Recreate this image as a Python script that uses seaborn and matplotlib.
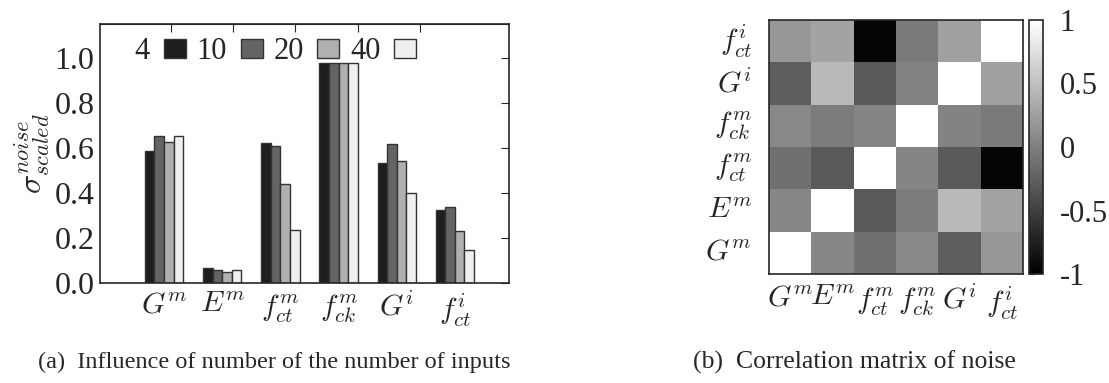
"""
Noise influence bars (a) and noise correlation matrix (b).
"""
import numpy as np
import pandas as pd
import matplotlib
matplotlib.use("Agg")
import matplotlib.pyplot as plt
import seaborn as sns
from matplotlib.patches import Patch

# parametros (eixo x / linhas da matriz)
params = ["G^m", "E^m", "f_{ct}^m", "f_{ck}^m", "G^i", "f_{ct}^i"]
n_inputs = ["4", "10", "20", "40"]

# sigma_scaled^noise por numero de inputs
sigma_4 = [0.588, 0.068, 0.620, 0.979, 0.531, 0.326]
sigma_10 = [0.653, 0.059, 0.610, 0.979, 0.619, 0.337]
sigma_20 = [0.625, 0.050, 0.438, 0.979, 0.540, 0.233]
sigma_40 = [0.651, 0.056, 0.237, 0.979, 0.401, 0.145]

bar_colors = ["#1e1e1e", "#646464", "#b0b0b0", "#efefef"]

# matriz de correlacao (ordem: G^m, E^m, f_ct^m, f_ck^m, G^i, f_ct^i)
corr_rows = [
    [1.00, 0.06, -0.12, 0.07, -0.26, 0.18],
    [0.06, 1.00, -0.30, -0.03, 0.45, 0.28],
    [-0.12, -0.30, 1.00, 0.04, -0.29, -0.96],
    [0.07, -0.03, 0.04, 1.00, 0.03, -0.04],
    [-0.26, 0.45, -0.29, 0.03, 1.00, 0.25],
    [0.18, 0.28, -0.96, -0.04, 0.25, 1.00],
]

sns.set_style("ticks")
plt.rcParams["font.family"] = ["Liberation Serif", "DejaVu Serif"]
plt.rcParams["mathtext.fontset"] = "cm"

W, H = 1109, 383
fig = plt.figure(figsize=(W / 100, H / 100), dpi=100)


def box(x0, y0, x1, y1):
    return [x0 / W, 1 - y1 / H, (x1 - x0) / W, (y1 - y0) / H]


# ---------------- (a) barras ----------------
ax = fig.add_axes(box(100, 24, 509, 283))
labels = [f"${p}$" for p in params]
df = pd.DataFrame({
    "param": labels * 4,
    "n": np.repeat(n_inputs, len(params)),
    "sigma": sigma_4 + sigma_10 + sigma_20 + sigma_40,
})
sns.barplot(data=df, x="param", y="sigma", hue="n", palette=bar_colors,
            width=0.66, edgecolor="#333333", linewidth=1.0, ax=ax,
            saturation=1, gap=0)
ax.set_xlim(-1.1, 5.93)
ax.set_ylim(0, 1.15)
ax.set_yticks([0.0, 0.2, 0.4, 0.6, 0.8, 1.0])
ax.set_yticklabels(["0.0", "0.2", "0.4", "0.6", "0.8", "1.0"])
ax.tick_params(axis="y", left=False, right=True, direction="in",
               length=6, labelsize=23, pad=4)
ax.tick_params(axis="x", bottom=False, labelsize=21.5, pad=3)
ax.set_xlabel("")
ax.set_ylabel(r"$\sigma_{scaled}^{noise}$", fontsize=23, labelpad=2)
for s in ax.spines.values():
    s.set_linewidth(1.2)
    s.set_visible(True)
top = ax.secondary_xaxis("top")
top.set_xticks([0.115, 1.186, 2.257, 3.328, 4.40])
top.set_xticklabels([])
top.tick_params(direction="in", length=6)

ax.get_legend().remove()
handles = [Patch(facecolor=c, edgecolor="#333333", linewidth=1.0)
           for c in bar_colors]
ax.legend(handles, n_inputs, loc="upper left", ncol=4, frameon=False,
          markerfirst=False, fontsize=22, handlelength=0.72,
          handleheight=0.55, handletextpad=0.45, columnspacing=0.35,
          bbox_to_anchor=(0.04, 1.02), borderaxespad=0.2)

fig.text(274 / W, 1 - 362 / H,
         "(a)  Influence of number of the number of inputs",
         ha="center", va="center", fontsize=17.5)

# ---------------- (b) matriz de correlacao ----------------
ax2 = fig.add_axes(box(769, 20, 1023, 274))
cax = fig.add_axes(box(1029, 20, 1043, 274))
mat = pd.DataFrame(corr_rows, index=labels, columns=labels)
sns.heatmap(mat, cmap="gray", vmin=-1, vmax=1, ax=ax2, cbar_ax=cax,
            square=False, linewidths=0)
ax2.invert_yaxis()
ax2.tick_params(axis="y", length=0, labelsize=21.5, pad=12)
ax2.tick_params(axis="x", length=0, labelsize=21.5, pad=8)
ax2.set_yticklabels(labels, rotation=0)
ax2.set_xticklabels(labels, rotation=0)
ax2.set_xlabel("")
ax2.set_ylabel("")
for s in ax2.spines.values():
    s.set_visible(True)
    s.set_linewidth(1.2)

cb = ax2.collections[0].colorbar
cb.set_ticks([-1, -0.5, 0, 0.5, 1])
cb.set_ticklabels(["-1", "-0.5", "0", "0.5", "1"])
cax.tick_params(labelsize=22, direction="in", length=4, left=True,
                right=False, pad=12)
cb.outline.set_visible(True)
cb.outline.set_linewidth(1.2)

fig.text(854 / W, 1 - 362 / H, "(b)  Correlation matrix of noise",
         ha="center", va="center", fontsize=18.5)

fig.savefig("out.png", dpi=100)
